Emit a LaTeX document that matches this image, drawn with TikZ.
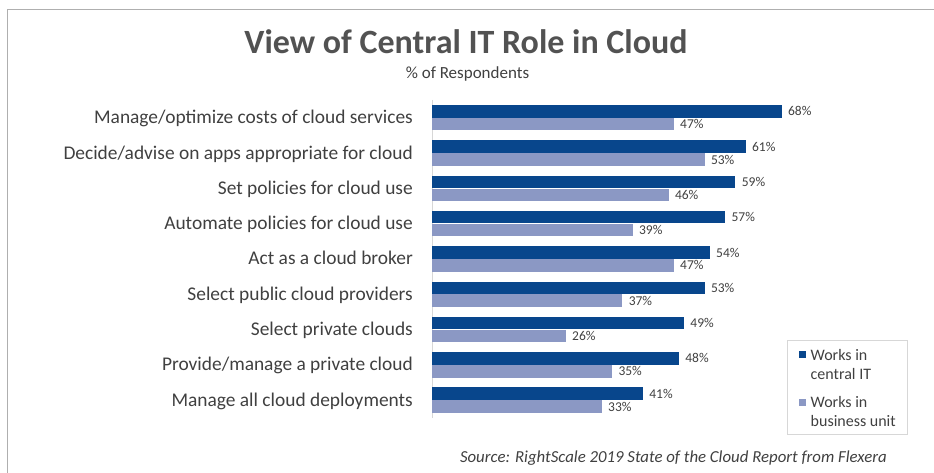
\documentclass[tikz,border=0pt]{standalone}
\usepackage{fontspec}
\setmainfont{Carlito}
\usepackage{tikz}
\usetikzlibrary{positioning}
\definecolor{itblue}{RGB}{8,70,140}
\definecolor{bublue}{RGB}{139,152,196}
\definecolor{inkgrey}{RGB}{64,64,64}
\definecolor{titlegrey}{RGB}{82,82,82}
\definecolor{framegrey}{RGB}{175,175,175}
\definecolor{axisgrey}{RGB}{215,215,215}
\tikzset
{
    darkbar/.style  = {fill=itblue, minimum width=#1*5.14pt, minimum height=12.5pt, inner sep=0pt, anchor=west},
    lightbar/.style = {fill=bublue, minimum width=#1*5.14pt, minimum height=12.5pt, inner sep=0pt, anchor=north west},
    catlabel/.style = {font=\fontsize{19.4}{22}\selectfont, text=inkgrey, inner sep=0pt, anchor=base east, yshift=-6pt},
    vallabel/.style = {font=\fontsize{13.5}{15}\selectfont, text=inkgrey, inner sep=0pt, anchor=west},
    legendtext/.style = {font=\fontsize{16}{19}\selectfont, text=inkgrey, align=left, inner sep=0pt, anchor=west}
}

\begin{document}
\begin{tikzpicture}[x=1pt, y=-1pt]
    \useasboundingbox (0,0) rectangle (934,473);
    \draw [framegrey, line width=1.3pt] (7.5,473) -- (7.5,9.5) -- (934,9.5);
    \node [font=\fontsize{34}{38}\bfseries, text=titlegrey, anchor=base] (title) at (466,54) {View of Central IT Role in Cloud};
    \node [font=\fontsize{17}{20}\selectfont, text=inkgrey, anchor=base] (subtitle) at (467.5,79) {\% of Respondents};
    \draw [axisgrey] (432,100) -- (432,418);

    % central IT / business unit bars
    \node [darkbar=68] (costs-d) at (432,111.3) {};
    \node [lightbar=47] (costs-l) at (costs-d.south west) {};
    \node [left=19pt of costs-d.south west, catlabel] (costs) {Manage/optimize costs of cloud services};
    \node [right=6pt of costs-d, vallabel] {68\%};
    \node [right=6pt of costs-l, vallabel] {47\%};

    \node [darkbar=61] (apps-d) at (432,146.6) {};
    \node [lightbar=53] (apps-l) at (apps-d.south west) {};
    \node [left=19pt of apps-d.south west, catlabel] (apps) {Decide/advise on apps appropriate for cloud};
    \node [right=6pt of apps-d, vallabel] {61\%};
    \node [right=6pt of apps-l, vallabel] {53\%};

    \node [darkbar=59] (policies-d) at (432,181.9) {};
    \node [lightbar=46] (policies-l) at (policies-d.south west) {};
    \node [left=19pt of policies-d.south west, catlabel] (policies) {Set policies for cloud use};
    \node [right=6pt of policies-d, vallabel] {59\%};
    \node [right=6pt of policies-l, vallabel] {46\%};

    \node [darkbar=57] (automate-d) at (432,217.2) {};
    \node [lightbar=39] (automate-l) at (automate-d.south west) {};
    \node [left=19pt of automate-d.south west, catlabel] (automate) {Automate policies for cloud use};
    \node [right=6pt of automate-d, vallabel] {57\%};
    \node [right=6pt of automate-l, vallabel] {39\%};

    \node [darkbar=54] (broker-d) at (432,252.5) {};
    \node [lightbar=47] (broker-l) at (broker-d.south west) {};
    \node [left=19pt of broker-d.south west, catlabel] (broker) {Act as a cloud broker};
    \node [right=6pt of broker-d, vallabel] {54\%};
    \node [right=6pt of broker-l, vallabel] {47\%};

    \node [darkbar=53] (public-d) at (432,287.8) {};
    \node [lightbar=37] (public-l) at (public-d.south west) {};
    \node [left=19pt of public-d.south west, catlabel] (public) {Select public cloud providers};
    \node [right=6pt of public-d, vallabel] {53\%};
    \node [right=6pt of public-l, vallabel] {37\%};

    \node [darkbar=49] (private-d) at (432,323.1) {};
    \node [lightbar=26] (private-l) at (private-d.south west) {};
    \node [left=19pt of private-d.south west, catlabel] (private) {Select private clouds};
    \node [right=6pt of private-d, vallabel] {49\%};
    \node [right=6pt of private-l, vallabel] {26\%};

    \node [darkbar=48] (provide-d) at (432,358.4) {};
    \node [lightbar=35] (provide-l) at (provide-d.south west) {};
    \node [left=19pt of provide-d.south west, catlabel] (provide) {Provide/manage a private cloud};
    \node [right=6pt of provide-d, vallabel] {48\%};
    \node [right=6pt of provide-l, vallabel] {35\%};

    \node [darkbar=41] (deploy-d) at (432,393.7) {};
    \node [lightbar=33] (deploy-l) at (deploy-d.south west) {};
    \node [left=19pt of deploy-d.south west, catlabel] (deploy) {Manage all cloud deployments};
    \node [right=6pt of deploy-d, vallabel] {41\%};
    \node [right=6pt of deploy-l, vallabel] {33\%};

    % legend
    \node [draw=axisgrey, minimum width=120pt, minimum height=94pt, inner sep=0pt] (legend) at (847,387) {};
    \node [fill=itblue, minimum size=7pt, inner sep=0pt] (key-it) at (802.5,354.5) {};
    \node [fill=bublue, minimum size=7pt, inner sep=0pt] (key-bu) at (802.5,402.5) {};
    \node [legendtext] (text-it) at (810.5,364.5) {Works in\\central IT};
    \node [legendtext] (text-bu) at (810.5,411.2) {Works in\\business unit};

    \node [font=\fontsize{16.8}{19}\itshape, text=inkgrey, anchor=east, inner sep=0pt] (source) at (887,457.7) {Source: RightScale 2019 State of the Cloud Report from Flexera};
\end{tikzpicture}
\end{document}
